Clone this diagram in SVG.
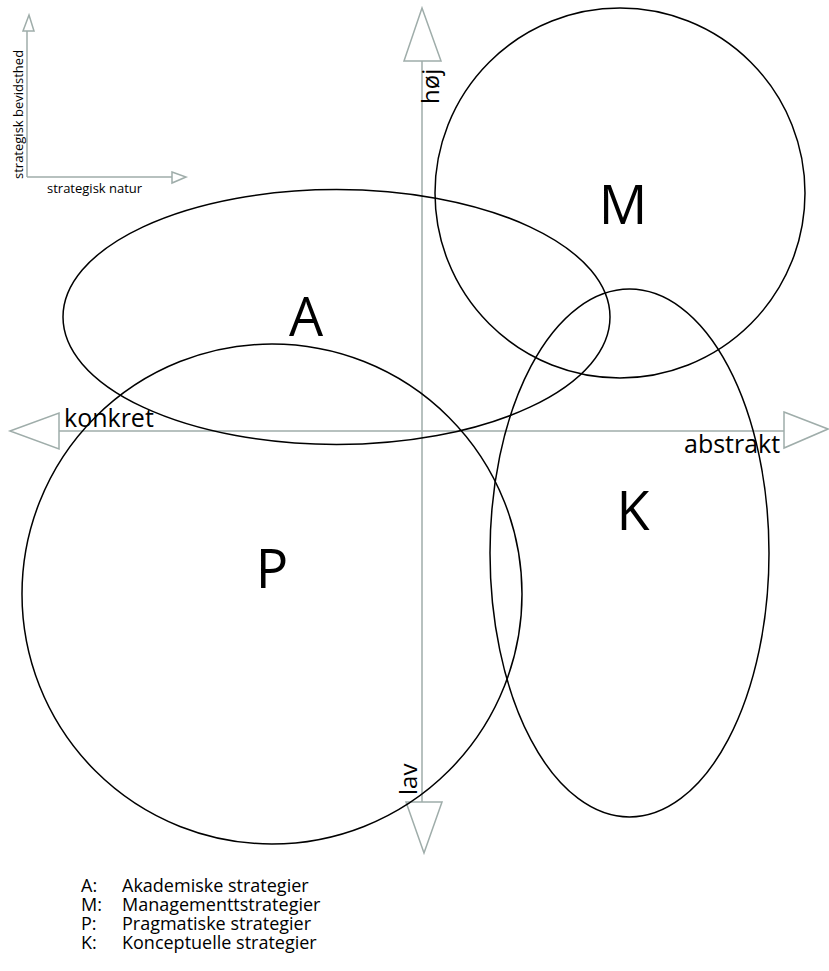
<svg xmlns="http://www.w3.org/2000/svg" width="829" height="971" viewBox="0 0 829 971">
<style>
.ax{fill:none;stroke:#9fadaa;stroke-width:1.5}
.arr{fill:#fff;stroke:#9fadaa;stroke-width:1.5}
.sh{fill:none;stroke:#000;stroke-width:1.5}
.t{font-family:"Open Sans","Liberation Sans",sans-serif;fill:#000}
.big{font-size:54px;text-anchor:middle}
.lg{font-size:18px}
</style>
<rect width="829" height="971" fill="#fff"/>
<g id="axes">
<line class="ax" x1="422" y1="60" x2="422" y2="802"/>
<line class="ax" x1="59" y1="431" x2="784" y2="431"/>
<polygon class="arr" points="422,8 441,61 404,61"/>
<polygon class="arr" points="406,802 442,802 424,853"/>
<polygon class="arr" points="10,431 59,413 59,449"/>
<polygon class="arr" points="784,412 828,429 784,448"/>
<text class="t" font-size="24" transform="translate(439,104) rotate(-90)">høj</text>
<text class="t" font-size="24" transform="translate(417,795) rotate(-90)">lav</text>
<text class="t" font-size="25" x="64" y="427">konkret</text>
<text class="t" font-size="25" x="684" y="453">abstrakt</text>
</g>
<g id="legend-axes">
<line class="ax" x1="27" y1="31" x2="27" y2="177"/>
<line class="ax" x1="27" y1="177" x2="172" y2="177"/>
<polygon class="arr" points="29,15 34,31 23,31"/>
<polygon class="arr" points="172,172 186,177 172,183"/>
<text class="t" font-size="13" transform="translate(23,179) rotate(-90)">strategisk bevidsthed</text>
<text class="t" font-size="13" x="47" y="193">strategisk natur</text>
</g>
<g id="M"><circle class="sh" cx="620" cy="193" r="185"/><text class="t big" x="623" y="224">M</text></g>
<g id="A"><ellipse class="sh" cx="336.5" cy="317" rx="273.5" ry="127.5"/><text class="t big" x="306" y="336">A</text></g>
<g id="K"><ellipse class="sh" cx="629.5" cy="553" rx="139.5" ry="264"/><text class="t big" x="633" y="530">K</text></g>
<g id="P"><circle class="sh" cx="272" cy="594" r="250"/><text class="t big" x="272" y="588">P</text></g>
<g id="legend">
<text class="t lg" x="81" y="892">A:</text><text class="t lg" x="122" y="892">Akademiske strategier</text>
<text class="t lg" x="81" y="911">M:</text><text class="t lg" x="122" y="911">Managementtstrategier</text>
<text class="t lg" x="81" y="930">P:</text><text class="t lg" x="122" y="930">Pragmatiske strategier</text>
<text class="t lg" x="81" y="949">K:</text><text class="t lg" x="122" y="949">Konceptuelle strategier</text>
</g>
</svg>
